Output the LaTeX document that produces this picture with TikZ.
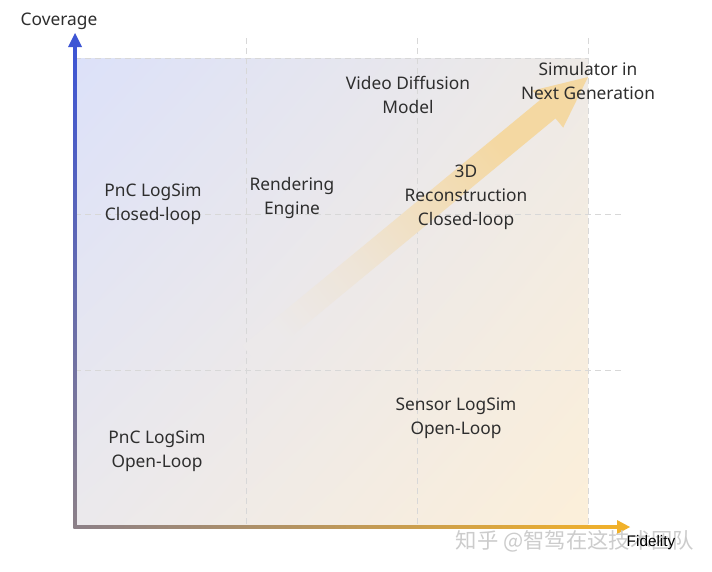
\documentclass[tikz,border=0pt]{standalone}
\usepackage{fontspec}
\usetikzlibrary{shadings}
\setmainfont{Noto Sans}
\newfontfamily\cjkfont{Noto Sans CJK SC}
\newfontfamily\arialfont{Liberation Sans}
\definecolor{bgUL}{HTML}{DCE1F9}
\definecolor{bgUR}{HTML}{EEEAE6}
\definecolor{bgLL}{HTML}{EBE9EC}
\definecolor{bgLR}{HTML}{FCEFD9}
\definecolor{bgmid}{HTML}{ECE9EA}
\definecolor{arrc}{HTML}{F4D8A2}
\definecolor{txt}{HTML}{2E2E2E}
\definecolor{gridc}{HTML}{D8D8D8}
\definecolor{yaxc}{HTML}{3D55D4}
\definecolor{axgray}{HTML}{8C8088}
\definecolor{xaxc}{HTML}{F1B12A}
\definecolor{wmc}{HTML}{CCCCCC}
\colorlet{arrA}{arrc!25!bgmid}
\colorlet{arrB}{arrc!60!bgmid}
\pgfdeclareverticalshading{arrowshade}{100bp}{color(0bp)=(bgmid); color(22bp)=(bgmid); color(38bp)=(arrA); color(52bp)=(arrB); color(68bp)=(arrc); color(100bp)=(arrc)}
\begin{document}
\begin{tikzpicture}[x=0.75pt,y=-0.75pt,
  lbl/.style={font=\fontsize{13}{18}\selectfont, text=txt, align=center, inner sep=0pt},
  gridline/.style={draw=gridc, line width=0.75pt, dash pattern=on 4.5pt off 3pt}]
\useasboundingbox (0,0) rectangle (712,571);
\fill[white] (0,0) rectangle (712,571);
% background gradient
\shade[upper left=bgUL, upper right=bgUR, lower left=bgLL, lower right=bgLR] (75,58) rectangle (588,527);
% grid
\draw[gridline] (75,58) -- (588,58);
\draw[gridline] (75,214) -- (622,214);
\draw[gridline] (75,370) -- (622,370);
\draw[gridline] (246,38) -- (246,527);
\draw[gridline] (417,38) -- (417,527);
\draw[gridline] (588,38) -- (588,527);
% big trend arrow
\shade[shading=arrowshade, shading angle=-50.5]
  (242.4,345.7) -- (540.3,99.8) -- (532.6,90.6) -- (588,77) -- (563.2,127.6) -- (555.5,118.4) -- (257.6,364.3) -- cycle;
% axes
\coordinate (O) at (75,527);
\coordinate (ytip) at (75,33);
\coordinate (xtip) at (630,527);
\shade[top color=yaxc, bottom color=axgray] (73.5,46) rectangle (76.5,528.5);
\fill[yaxc] (68,47) -- (ytip) -- (82,47) -- cycle;
\shade[left color=axgray, right color=xaxc] (73.5,525.5) rectangle (618,528.5);
\fill[xaxc] (617,520) -- (xtip) -- (617,534) -- cycle;
% labels
\node[lbl] (cov) at (59,21) {Coverage};
\node[lbl] (vdm) at (408,95) {Video Diffusion\\Model};
\node[lbl] (sim) at (588,81) {Simulator in\\Next Generation};
\node[lbl] (pncc) at (153,204) {PnC LogSim\\Closed-loop};
\node[lbl] (rend) at (292,198) {Rendering\\Engine};
\node[lbl] (recon) at (466,197) {3D\\Reconstruction\\Closed-loop};
\node[lbl] (pnco) at (157,451) {PnC LogSim\\Open-Loop};
\node[lbl] (sens) at (456,418) {Sensor LogSim\\Open-Loop};
% watermark
\node[inner sep=0pt, text=wmc, font=\cjkfont\fontsize{16}{18}\selectfont] (wm) at (575,541) {知乎 @智驾在这技术团队};
\node[inner sep=0pt, text=black, font=\arialfont\fontsize{11.5}{14}\selectfont] (fid) at (651,543) {Fidelity};
\end{tikzpicture}
\end{document}
